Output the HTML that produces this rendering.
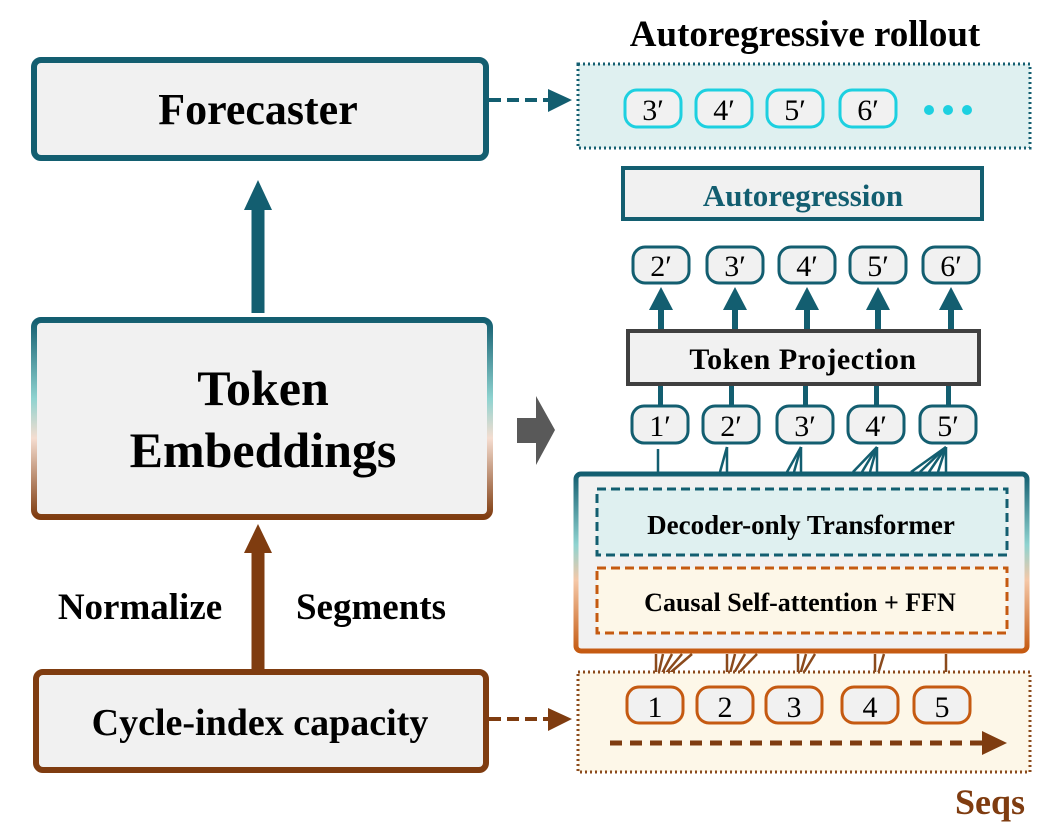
<!DOCTYPE html>
<html><head><meta charset="utf-8"><style>
html,body{margin:0;padding:0;background:#fff;}
svg{display:block;}
text{font-family:"Liberation Serif",serif;font-weight:bold;}
.tk{font-family:"Liberation Serif",serif;font-weight:normal;font-size:30px;}
</style></head><body>
<svg width="1058" height="836" viewBox="0 0 1058 836" xmlns="http://www.w3.org/2000/svg">
<defs>
<linearGradient id="g1" x1="0" y1="0" x2="0" y2="1">
<stop offset="0" stop-color="#135e70"/><stop offset="0.4" stop-color="#8fd3d0"/><stop offset="0.6" stop-color="#f5ddd0"/><stop offset="1" stop-color="#7f3c10"/>
</linearGradient>
<linearGradient id="g2" x1="0" y1="0" x2="0" y2="1">
<stop offset="0" stop-color="#135e70"/><stop offset="0.4" stop-color="#8fd3d0"/><stop offset="0.6" stop-color="#f5c8a8"/><stop offset="1" stop-color="#c55a11"/>
</linearGradient>
</defs>

<!-- Left column -->
<rect x="34" y="60" width="452" height="98" rx="7" fill="#f1f1f1" stroke="#135e70" stroke-width="6"/>
<text x="258" y="124" font-size="44" text-anchor="middle">Forecaster</text>

<rect x="251.5" y="209" width="13" height="104" fill="#135e70"/>
<polygon points="244,210 272,210 258,180" fill="#135e70"/>

<rect x="34" y="320" width="456" height="197" rx="7" fill="#f1f1f1" stroke="url(#g1)" stroke-width="6"/>
<text x="263" y="405" font-size="50" text-anchor="middle">Token</text>
<text x="263" y="467" font-size="50" text-anchor="middle">Embeddings</text>

<rect x="251.5" y="550" width="13" height="120" fill="#7f3c10"/>
<polygon points="244,553 272,553 258,524" fill="#7f3c10"/>
<text x="140" y="619" font-size="37" text-anchor="middle">Normalize</text>
<text x="371" y="619" font-size="37" text-anchor="middle">Segments</text>

<rect x="36" y="672" width="450" height="98" rx="7" fill="#f1f1f1" stroke="#7f3c10" stroke-width="6"/>
<text x="260" y="735" font-size="38" text-anchor="middle">Cycle-index capacity</text>

<!-- dashed arrows -->
<line x1="489" y1="100" x2="550" y2="100" stroke="#135e70" stroke-width="4" stroke-dasharray="12,6"/>
<polygon points="548,89 548,112 572,100" fill="#135e70"/>
<line x1="489" y1="719" x2="550" y2="719" stroke="#7f3c10" stroke-width="4" stroke-dasharray="12,6"/>
<polygon points="548,708 548,731 572,719" fill="#7f3c10"/>

<!-- gray chevron -->
<polygon points="517,418 536,418 536,396 555,430 536,465 536,443 517,443" fill="#595959"/>

<!-- Right: rollout -->
<text x="805" y="46" font-size="37" text-anchor="middle">Autoregressive rollout</text>
<rect x="578" y="64" width="452" height="84" fill="#dff0f0" stroke="#135e70" stroke-width="3" stroke-dasharray="2,3"/>
<g fill="#f1f1f1" stroke="#1dd0e0" stroke-width="3">
<rect x="625" y="90" width="56" height="37" rx="12"/>
<rect x="696" y="90" width="56" height="37" rx="12"/>
<rect x="767" y="90" width="56" height="37" rx="12"/>
<rect x="840" y="90" width="56" height="37" rx="12"/>
</g>
<text class="tk" x="653" y="120" text-anchor="middle">3′</text><text class="tk" x="724" y="120" text-anchor="middle">4′</text><text class="tk" x="795" y="120" text-anchor="middle">5′</text><text class="tk" x="868" y="120" text-anchor="middle">6′</text>
<circle cx="929" cy="110" r="5" fill="#1dd0e0"/><circle cx="948" cy="110" r="5" fill="#1dd0e0"/><circle cx="967" cy="110" r="5" fill="#1dd0e0"/>

<rect x="623" y="168" width="359" height="51" fill="#f1f1f1" stroke="#135e70" stroke-width="4"/>
<text x="803" y="206" font-size="31" text-anchor="middle" fill="#135e70">Autoregression</text>

<!-- output tokens -->
<g fill="#f1f1f1" stroke="#135e70" stroke-width="3">
<rect x="633" y="247" width="56" height="36" rx="12"/>
<rect x="707" y="247" width="56" height="36" rx="12"/>
<rect x="779" y="247" width="56" height="36" rx="12"/>
<rect x="850" y="247" width="56" height="36" rx="12"/>
<rect x="923" y="247" width="56" height="36" rx="12"/>
</g>
<text class="tk" x="661" y="276" text-anchor="middle">2′</text>
<text class="tk" x="735" y="276" text-anchor="middle">3′</text>
<text class="tk" x="807" y="276" text-anchor="middle">4′</text>
<text class="tk" x="878" y="276" text-anchor="middle">5′</text>
<text class="tk" x="951" y="276" text-anchor="middle">6′</text>
<g fill="#135e70">
<rect x="658" y="306" width="6" height="26"/><polygon points="649,310 673,310 661,287"/>
<rect x="732" y="306" width="6" height="26"/><polygon points="723,310 747,310 735,287"/>
<rect x="804" y="306" width="6" height="26"/><polygon points="795,310 819,310 807,287"/>
<rect x="875" y="306" width="6" height="26"/><polygon points="866,310 890,310 878,287"/>
<rect x="948" y="306" width="6" height="26"/><polygon points="939,310 963,310 951,287"/>
</g>

<rect x="628" y="331" width="351" height="53" fill="#f1f1f1" stroke="#404040" stroke-width="4"/>
<text x="803" y="369" font-size="30" text-anchor="middle" letter-spacing="0.5">Token  Projection</text>

<g fill="#135e70">
<rect x="658" y="386" width="5" height="20"/><rect x="729" y="386" width="5" height="20"/><rect x="803" y="386" width="5" height="20"/><rect x="874" y="386" width="5" height="20"/><rect x="946" y="386" width="5" height="20"/>
</g>
<g fill="#f1f1f1" stroke="#135e70" stroke-width="3">
<rect x="632" y="406" width="56" height="37" rx="12"/>
<rect x="703" y="406" width="56" height="37" rx="12"/>
<rect x="777" y="406" width="56" height="37" rx="12"/>
<rect x="848" y="406" width="56" height="37" rx="12"/>
<rect x="920" y="406" width="56" height="37" rx="12"/>
</g>
<text class="tk" x="660" y="436" text-anchor="middle">1′</text>
<text class="tk" x="731" y="436" text-anchor="middle">2′</text>
<text class="tk" x="805" y="436" text-anchor="middle">3′</text>
<text class="tk" x="876" y="436" text-anchor="middle">4′</text>
<text class="tk" x="948" y="436" text-anchor="middle">5′</text>

<!-- fan lines top -->
<g stroke="#135e70" stroke-width="2.5">
<line x1="658" y1="449" x2="658" y2="472"/>
<line x1="727" y1="447" x2="727" y2="472"/><line x1="727" y1="447" x2="720" y2="472"/>
<line x1="801" y1="447" x2="801" y2="472"/><line x1="801" y1="447" x2="794" y2="472"/><line x1="801" y1="447" x2="787" y2="472"/>
<line x1="877" y1="447" x2="877" y2="472"/><line x1="877" y1="447" x2="870" y2="472"/><line x1="877" y1="447" x2="862" y2="472"/><line x1="877" y1="447" x2="853" y2="472"/>
<line x1="946" y1="447" x2="946" y2="472"/><line x1="946" y1="447" x2="938" y2="472"/><line x1="946" y1="447" x2="929" y2="472"/><line x1="946" y1="447" x2="920" y2="472"/><line x1="946" y1="447" x2="911" y2="472"/>
</g>

<!-- transformer box -->
<rect x="576" y="474" width="451" height="177" rx="5" fill="#f1f1f1" stroke="url(#g2)" stroke-width="5"/>
<rect x="597" y="489" width="410" height="66" fill="#dff0f0" stroke="#135e70" stroke-width="3" stroke-dasharray="9,5"/>
<text x="801" y="534" font-size="27" text-anchor="middle">Decoder-only Transformer</text>
<rect x="597" y="568" width="410" height="65" fill="#fdf7e8" stroke="#c55a11" stroke-width="3" stroke-dasharray="9,5"/>
<text x="800" y="611" font-size="26" text-anchor="middle">Causal Self-attention + FFN</text>

<!-- fan lines bottom -->
<g stroke="#8b4a1c" stroke-width="2.5">
<line x1="656" y1="685" x2="656" y2="654"/><line x1="656" y1="685" x2="663" y2="654"/><line x1="656" y1="685" x2="672" y2="654"/><line x1="656" y1="685" x2="682" y2="654"/><line x1="656" y1="685" x2="692" y2="654"/>
<line x1="727" y1="685" x2="727" y2="654"/><line x1="727" y1="685" x2="735" y2="654"/><line x1="727" y1="685" x2="745" y2="654"/><line x1="727" y1="685" x2="757" y2="654"/>
<line x1="798" y1="682" x2="798" y2="654"/><line x1="798" y1="682" x2="806" y2="654"/><line x1="798" y1="682" x2="815" y2="654"/>
<line x1="875" y1="684" x2="875" y2="654"/><line x1="875" y1="684" x2="884" y2="654"/>
<line x1="946" y1="684" x2="946" y2="654"/>
</g>

<!-- input box -->
<rect x="578" y="672" width="452" height="100" fill="#fdf7e8" stroke="#8b4a1c" stroke-width="3" stroke-dasharray="2,3"/>
<g fill="#f1f1f1" stroke="#c55a11" stroke-width="3">
<rect x="627" y="687" width="56" height="36" rx="12"/>
<rect x="697" y="687" width="56" height="36" rx="12"/>
<rect x="766" y="687" width="56" height="36" rx="12"/>
<rect x="842" y="687" width="56" height="36" rx="12"/>
<rect x="914" y="687" width="56" height="36" rx="12"/>
</g>
<text class="tk" x="655" y="717" text-anchor="middle">1</text>
<text class="tk" x="725" y="717" text-anchor="middle">2</text>
<text class="tk" x="794" y="717" text-anchor="middle">3</text>
<text class="tk" x="870" y="717" text-anchor="middle">4</text>
<text class="tk" x="942" y="717" text-anchor="middle">5</text>
<line x1="610" y1="743" x2="985" y2="743" stroke="#7f3c10" stroke-width="5" stroke-dasharray="12,8"/>
<polygon points="982,731 982,755 1007,743" fill="#7f3c10"/>
<text x="990" y="814" font-size="36" text-anchor="middle" fill="#7f3c10">Seqs</text>
</svg>
</body></html>
